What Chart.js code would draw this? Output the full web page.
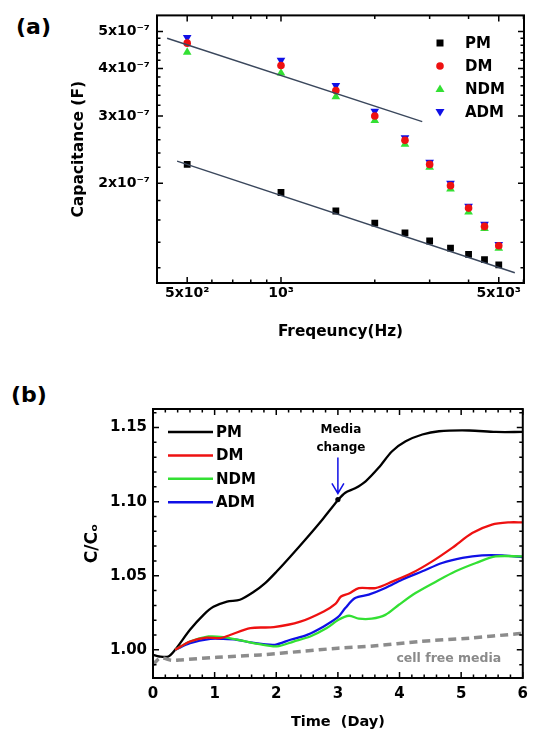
<!DOCTYPE html>
<html>
<head>
<meta charset="utf-8">
<script src="https://cdn.jsdelivr.net/npm/chart.js@4.4.0/dist/chart.umd.min.js"></script>
<style>
  body { margin: 0; background: #fff; width: 535px; height: 733px; position: relative; overflow: hidden; }
  .wrap { position: absolute; left: 0; width: 535px; }
  #wa { top: 0; height: 350px; }
  #wb { top: 360px; height: 373px; }
  .panel { position: absolute; font: bold 22px "DejaVu Sans"; line-height: 22px; color: #000; }
</style>
</head>
<body>
<div class="panel" style="left:16px;top:16px">(a)</div>
<div class="panel" style="left:11px;top:384px">(b)</div>
<div class="wrap" id="wa"><canvas id="chartA"></canvas></div>
<div class="wrap" id="wb"><canvas id="chartB"></canvas></div>
<script>
// ---- (a) capacitance vs frequency ----
const freqs  = [500, 1000, 1500, 2000, 2500, 3000, 3500, 4000, 4500, 5000];
const capPM  = [2.24e-7, 1.89e-7, 1.69e-7, 1.57e-7, 1.48e-7, 1.41e-7, 1.35e-7, 1.30e-7, 1.26e-7, 1.22e-7];
const capDM  = [4.66e-7, 4.07e-7, 3.50e-7, 3.00e-7, 2.59e-7, 2.24e-7, 1.97e-7, 1.72e-7, 1.54e-7, 1.37e-7];
const capNDM = [4.41e-7, 3.89e-7, 3.37e-7, 2.92e-7, 2.53e-7, 2.20e-7, 1.93e-7, 1.68e-7, 1.52e-7, 1.35e-7];
const capADM = [4.82e-7, 4.20e-7, 3.61e-7, 3.09e-7, 2.63e-7, 2.27e-7, 2.00e-7, 1.74e-7, 1.56e-7, 1.38e-7];
// fitted lines (end points)
const fitLowFreq  = [464, 5630];
const fitLowCap   = [2.285e-7, 1.164e-7];
const fitHighFreq = [431, 2840];
const fitHighCap  = [4.80e-7, 2.90e-7];

const freqTicks = [500, 1000, 5000];
const freqTickLabels = ['5x10²', '10³', '5x10³'];
const freqMinor = [400, 600, 700, 800, 900, 2000, 3000, 4000, 6000];
const capTicks = [2e-7, 3e-7, 4e-7, 5e-7];
const capTickLabels = ['2x10⁻⁷', '3x10⁻⁷', '4x10⁻⁷', '5x10⁻⁷'];
const capMinor = [1.2e-7, 1.4e-7, 1.6e-7, 1.8e-7, 2.2e-7, 2.4e-7, 2.6e-7, 2.8e-7,
                  3.2e-7, 3.4e-7, 3.6e-7, 3.8e-7, 4.2e-7, 4.4e-7, 4.6e-7, 4.8e-7];

// ---- (b) C/Co vs time ----
const pmDays  = [0, 0.1, 0.25, 0.36, 0.6, 0.82, 0.98, 1.2, 1.41, 1.63, 1.82, 2.01, 2.23, 2.47, 2.75, 3.0, 3.12, 3.28, 3.45, 3.66, 3.88, 4.1, 4.37, 4.64, 5.13, 5.56, 6.0];
const pmVals  = [0.9966, 0.9955, 0.9955, 1.000, 1.0135, 1.0236, 1.029, 1.0326, 1.0338, 1.039, 1.045, 1.053, 1.063, 1.0743, 1.088, 1.101, 1.106, 1.109, 1.1137, 1.1228, 1.134, 1.1407, 1.1453, 1.1475, 1.148, 1.147, 1.147];
const dmDays  = [0.36, 0.6, 0.87, 1.09, 1.25, 1.58, 1.96, 2.39, 2.77, 2.96, 3.05, 3.18, 3.34, 3.61, 3.88, 4.2, 4.53, 4.86, 5.18, 5.5, 5.78, 6.0];
const dmVals  = [1.000, 1.0056, 1.0082, 1.0079, 1.010, 1.0147, 1.0153, 1.019, 1.0259, 1.031, 1.036, 1.038, 1.0417, 1.0417, 1.046, 1.0518, 1.0597, 1.069, 1.0788, 1.0845, 1.086, 1.086];
const ndmDays = [0.36, 0.6, 0.9, 1.14, 1.4, 1.7, 2.01, 2.28, 2.55, 2.82, 3.01, 3.18, 3.34, 3.55, 3.77, 3.99, 4.26, 4.59, 4.91, 5.24, 5.56, 6.0];
const ndmVals = [1.000, 1.0056, 1.009, 1.0086, 1.0066, 1.004, 1.0023, 1.0056, 1.009, 1.0147, 1.0203, 1.023, 1.021, 1.021, 1.0236, 1.0304, 1.0383, 1.046, 1.053, 1.0586, 1.063, 1.063];
const admDays = [0.36, 0.6, 0.93, 1.14, 1.36, 1.58, 1.79, 1.98, 2.23, 2.5, 2.77, 3.0, 3.12, 3.28, 3.5, 3.77, 4.04, 4.37, 4.69, 5.02, 5.34, 5.67, 6.0];
const admVals = [1.000, 1.0045, 1.0074, 1.0074, 1.0068, 1.005, 1.0038, 1.0034, 1.0068, 1.0101, 1.0158, 1.022, 1.0282, 1.0349, 1.0372, 1.0417, 1.0473, 1.053, 1.0586, 1.062, 1.0637, 1.0637, 1.0626];
const cfDays  = [0, 0.12, 0.3, 0.45, 1.04, 1.74, 2.39, 3.0, 3.61, 4.31, 5.13, 5.91, 6.0];
const cfVals  = [0.990, 0.9945, 0.993, 0.9932, 0.995, 0.9966, 0.9989, 1.0011, 1.0027, 1.0056, 1.0079, 1.0108, 1.011];

const dayTicks = [0, 1, 2, 3, 4, 5, 6];
const dayMinor = [0.2, 0.4, 0.6, 0.8, 1.2, 1.4, 1.6, 1.8, 2.2, 2.4, 2.6, 2.8, 3.2, 3.4, 3.6, 3.8, 4.2, 4.4, 4.6, 4.8, 5.2, 5.4, 5.6, 5.8];
const ratioTicks = [1.00, 1.05, 1.10, 1.15];
const ratioMinor = [0.99, 1.01, 1.02, 1.03, 1.04, 1.06, 1.07, 1.08, 1.09, 1.11, 1.12, 1.13, 1.14, 1.16];

const FONT = 'DejaVu Sans';
const RED = '#ee1111', GREEN = '#33e033', BLUE = '#1010e6';

function pts(xs, ys) {
    return xs.map((x, i) => ({ x: x, y: ys[i] }));
}

// frame with inward ticks on all four sides
function framePlugin(minorX, minorY) {
    return {
        id: 'frame',
        afterDatasetsDraw(chart) {
            const { ctx, chartArea: a, scales: { x, y } } = chart;
            ctx.save();
            ctx.strokeStyle = '#000';
            ctx.lineWidth = 1.5;
            ctx.beginPath();
            const vtick = (v, len) => {
                const px = x.getPixelForValue(v);
                ctx.moveTo(px, a.bottom); ctx.lineTo(px, a.bottom - len);
                ctx.moveTo(px, a.top); ctx.lineTo(px, a.top + len);
            };
            const htick = (v, len) => {
                const py = y.getPixelForValue(v);
                ctx.moveTo(a.left, py); ctx.lineTo(a.left + len, py);
                ctx.moveTo(a.right, py); ctx.lineTo(a.right - len, py);
            };
            x.ticks.forEach(t => vtick(t.value, 6));
            minorX.forEach(v => vtick(v, 3.5));
            y.ticks.forEach(t => htick(t.value, 6));
            minorY.forEach(v => htick(v, 3.5));
            ctx.stroke();
            ctx.lineWidth = 2;
            ctx.strokeRect(a.left, a.top, a.right - a.left, a.bottom - a.top);
            ctx.restore();
        }
    };
}

// legend of panel (a), drawn inside the plot
const legendA = {
    id: 'legendA',
    afterDraw(chart) {
        const ctx = chart.ctx;
        const rows = [
            { label: 'PM', shape: 'square', color: '#000' },
            { label: 'DM', shape: 'circle', color: RED },
            { label: 'NDM', shape: 'up', color: GREEN },
            { label: 'ADM', shape: 'down', color: BLUE }
        ];
        ctx.save();
        ctx.font = 'bold 15px "' + FONT + '"';
        ctx.textBaseline = 'middle';
        rows.forEach((r, i) => {
            const cy = 43 + i * 23, cx = 440;
            ctx.fillStyle = r.color;
            ctx.beginPath();
            if (r.shape === 'square') ctx.rect(cx - 3.5, cy - 3.5, 7, 7);
            if (r.shape === 'circle') ctx.arc(cx, cy, 3.8, 0, Math.PI * 2);
            if (r.shape === 'up') { ctx.moveTo(cx, cy - 4.5); ctx.lineTo(cx + 4.5, cy + 3); ctx.lineTo(cx - 4.5, cy + 3); }
            if (r.shape === 'down') { ctx.moveTo(cx, cy + 4.5); ctx.lineTo(cx + 4.5, cy - 3); ctx.lineTo(cx - 4.5, cy - 3); }
            ctx.fill();
            ctx.fillStyle = '#000';
            ctx.fillText(r.label, 465, cy + 1);
        });
        ctx.restore();
    }
};

// legend and notes of panel (b)
const notesB = {
    id: 'notesB',
    afterDraw(chart) {
        const { ctx, scales: { x, y } } = chart;
        const rows = [['PM', '#000'], ['DM', RED], ['NDM', GREEN], ['ADM', BLUE]];
        ctx.save();
        ctx.font = 'bold 15px "' + FONT + '"';
        ctx.textBaseline = 'middle';
        rows.forEach((r, i) => {
            const cy = 72 + i * 23.4;
            ctx.strokeStyle = r[1];
            ctx.lineWidth = 2.5;
            ctx.beginPath();
            ctx.moveTo(168, cy); ctx.lineTo(213, cy);
            ctx.stroke();
            ctx.fillStyle = '#000';
            ctx.fillText(r[0], 216, cy + 1);
        });

        // media change arrow at day 3
        const cx = x.getPixelForValue(3);
        ctx.font = 'bold 12px "' + FONT + '"';
        ctx.textAlign = 'center';
        ctx.fillText('Media', cx + 3, 70);
        ctx.fillText('change', cx + 3, 88);
        const top = y.getPixelForValue(1.1297), tip = y.getPixelForValue(1.1055);
        ctx.strokeStyle = BLUE;
        ctx.lineWidth = 1.5;
        ctx.beginPath();
        ctx.moveTo(cx, top); ctx.lineTo(cx, tip);
        ctx.moveTo(cx - 6, tip - 10); ctx.lineTo(cx, tip); ctx.lineTo(cx + 6, tip - 10);
        ctx.stroke();
        ctx.fillStyle = '#000';
        ctx.beginPath();
        ctx.arc(cx, y.getPixelForValue(1.1014), 2.6, 0, Math.PI * 2);
        ctx.fill();

        ctx.fillStyle = '#8a8a8a';
        ctx.font = 'bold 12.5px "' + FONT + '"';
        ctx.fillText('cell free media', x.getPixelForValue(4.8), y.getPixelForValue(0.9937));
        ctx.restore();
    }
};

const tickFont = { family: FONT, weight: 'bold', size: 14 };

new Chart(document.getElementById('chartA'), {
    type: 'scatter',
    data: {
        datasets: [
            { data: pts(fitLowFreq, fitLowCap), showLine: true, pointRadius: 0, borderColor: '#3a475c', borderWidth: 1.4 },
            { data: pts(fitHighFreq, fitHighCap), showLine: true, pointRadius: 0, borderColor: '#3a475c', borderWidth: 1.4 },
            { label: 'PM', data: pts(freqs, capPM), pointStyle: 'rect', pointRadius: 4.8, backgroundColor: '#000', borderColor: '#000', borderWidth: 0 },
            { label: 'DM', data: pts(freqs, capDM), pointStyle: 'circle', pointRadius: 3.8, backgroundColor: RED, borderColor: RED, borderWidth: 0 },
            { label: 'NDM', data: pts(freqs, capNDM), pointStyle: 'triangle', pointRadius: 5, backgroundColor: GREEN, borderColor: GREEN, borderWidth: 0 },
            { label: 'ADM', data: pts(freqs, capADM), pointStyle: 'triangle', rotation: 180, pointRadius: 5, backgroundColor: BLUE, borderColor: BLUE, borderWidth: 0 }
        ]
    },
    options: {
        responsive: true,
        maintainAspectRatio: false,
        animation: false,
        layout: { padding: { left: 60, right: 11, top: 15, bottom: 0 } },
        plugins: { legend: { display: false }, tooltip: { enabled: false } },
        scales: {
            x: {
                type: 'logarithmic', min: 400, max: 6025, bounds: 'data',
                grid: { display: false, drawTicks: false }, border: { display: false },
                afterBuildTicks: s => { s.ticks = freqTicks.map(v => ({ value: v })); },
                afterFit: s => { s.height = 67; },
                ticks: { color: '#000', font: tickFont, padding: 2, maxRotation: 0, autoSkip: false,
                         callback: (v, i) => freqTickLabels[i] },
                title: { display: true, text: 'Freqeuncy(Hz)', color: '#000',
                         font: { family: FONT, weight: 'bold', size: 15.3 }, padding: { top: 0, bottom: 9 } }
            },
            y: {
                type: 'logarithmic', min: 1.094e-7, max: 5.51e-7, bounds: 'data',
                grid: { display: false, drawTicks: false }, border: { display: false },
                afterBuildTicks: s => { s.ticks = capTicks.map(v => ({ value: v })); },
                afterFit: s => { s.width = 97; },
                ticks: { color: '#000', font: tickFont, padding: 7, autoSkip: false,
                         callback: (v, i) => capTickLabels[i] },
                title: { display: true, text: 'Capacitance (F)', color: '#000',
                         font: { family: FONT, weight: 'bold', size: 15.5 }, padding: { top: 10, bottom: 0 } }
            }
        }
    },
    plugins: [framePlugin(freqMinor, capMinor), legendA]
});

new Chart(document.getElementById('chartB'), {
    type: 'line',
    data: {
        datasets: [
            { label: 'cell free media', data: pts(cfDays, cfVals), borderColor: '#8c8c8c', borderWidth: 3.5, borderDash: [8, 5], pointRadius: 0, tension: 0.3 },
            { label: 'DM', data: pts(dmDays, dmVals), borderColor: RED, borderWidth: 2.3, pointRadius: 0, tension: 0.3 },
            { label: 'NDM', data: pts(ndmDays, ndmVals), borderColor: GREEN, borderWidth: 2.3, pointRadius: 0, tension: 0.3 },
            { label: 'ADM', data: pts(admDays, admVals), borderColor: BLUE, borderWidth: 2.3, pointRadius: 0, tension: 0.3 },
            { label: 'PM', data: pts(pmDays, pmVals), borderColor: '#000', borderWidth: 2.3, pointRadius: 0, tension: 0.3 }
        ]
    },
    options: {
        responsive: true,
        maintainAspectRatio: false,
        animation: false,
        layout: { padding: { left: 72, right: 12, top: 49, bottom: 0 } },
        plugins: { legend: { display: false }, tooltip: { enabled: false } },
        scales: {
            x: {
                type: 'linear', min: 0, max: 6, bounds: 'data',
                grid: { display: false, drawTicks: false }, border: { display: false },
                afterBuildTicks: s => { s.ticks = dayTicks.map(v => ({ value: v })); },
                afterFit: s => { s.height = 55; },
                ticks: { color: '#000', font: { family: FONT, weight: 'bold', size: 15 }, padding: 7, maxRotation: 0,
                         callback: v => String(v) },
                title: { display: true, text: 'Time  (Day)', color: '#000',
                         font: { family: FONT, weight: 'bold', size: 14.5 }, padding: { top: 0, bottom: 2 } }
            },
            y: {
                type: 'linear', min: 0.981, max: 1.1625, bounds: 'data',
                grid: { display: false, drawTicks: false }, border: { display: false },
                afterBuildTicks: s => { s.ticks = ratioTicks.map(v => ({ value: v })); },
                afterFit: s => { s.width = 81; },
                ticks: { color: '#000', font: { family: FONT, weight: 'bold', size: 15 }, padding: 6,
                         callback: v => v.toFixed(2) },
                title: { display: true, text: 'C/Cₒ', color: '#000',
                         font: { family: FONT, weight: 'bold', size: 17 }, padding: { top: 10, bottom: 0 } }
            }
        }
    },
    plugins: [framePlugin(dayMinor, ratioMinor), notesB]
});
</script>
</body>
</html>
